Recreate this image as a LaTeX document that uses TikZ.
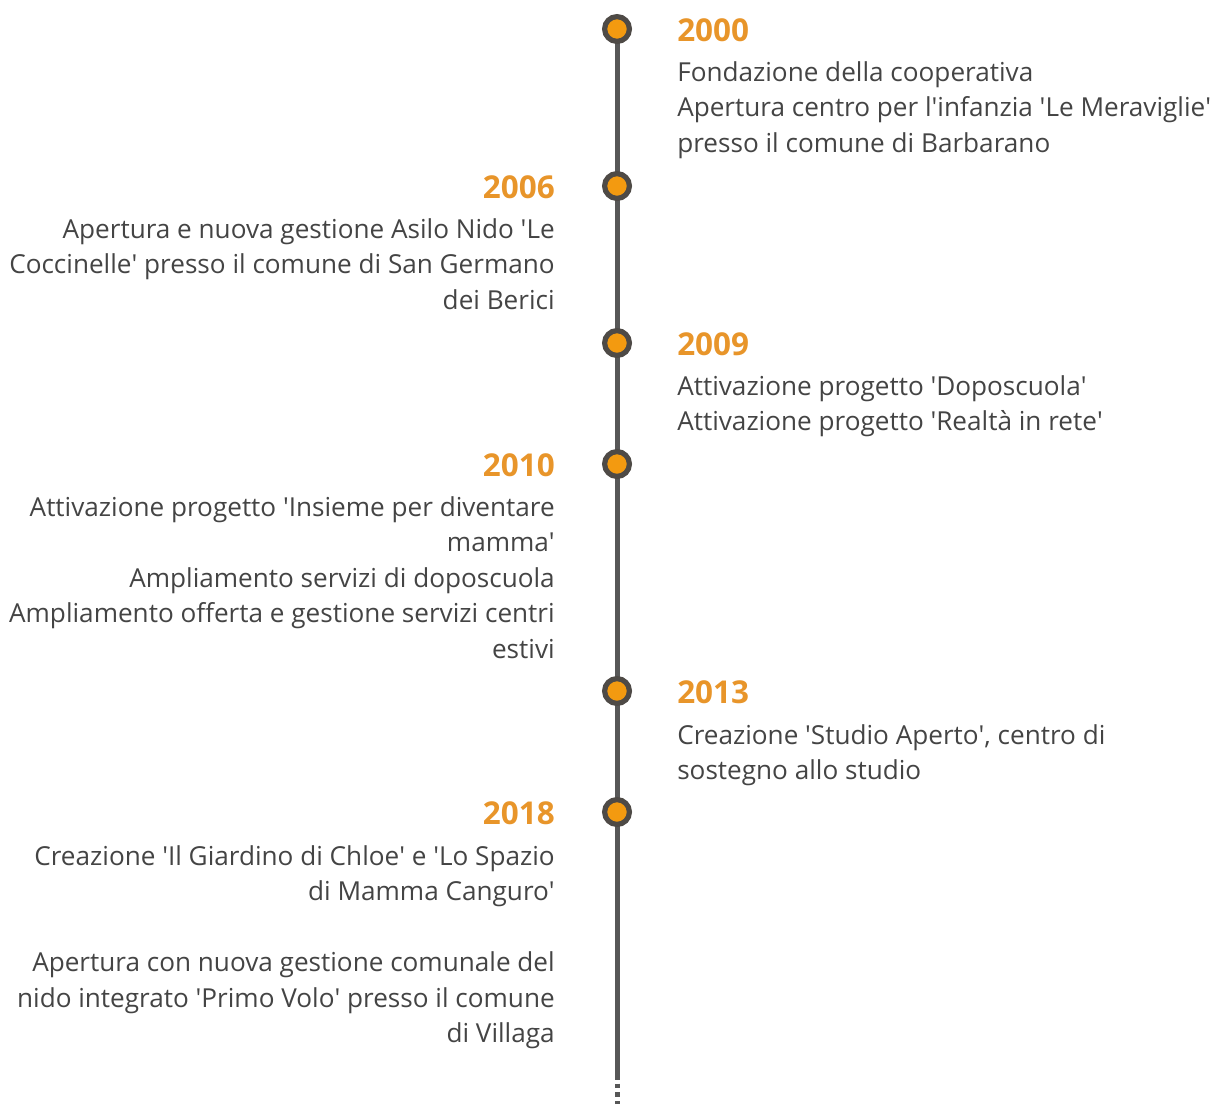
\documentclass[tikz,border=0pt]{standalone}
\usepackage{fontspec}
\setmainfont{Open Sans}
\definecolor{lineGray}{HTML}{575757}
\definecolor{ringGray}{HTML}{4E4A46}
\definecolor{dotOrange}{HTML}{F39A10}
\definecolor{yearOrange}{HTML}{E8952A}
\definecolor{textGray}{HTML}{444444}
\newcommand{\sq}{\textquotesingle}
\tikzset{
    axis/.style={draw=lineGray, line width=3.75pt},
    dot/.style={circle, draw=ringGray, fill=dotOrange, line width=3.9pt, minimum size=18.6pt, inner sep=0pt},
    year/.style={text=yearOrange, font=\fontsize{23.6}{26}\selectfont\bfseries, inner sep=0pt},
    entry/.style={text=textGray, font=\fontsize{19.6}{26.6}\selectfont, inner sep=0pt},
}
\begin{document}
\begin{tikzpicture}[x=0.75pt, y=-0.75pt]
    \useasboundingbox (0,0) rectangle (1213,1104);
    % the time axis
    \coordinate (top) at (617,29);
    \coordinate (tail) at (617,1075);
    \coordinate (end) at (617,1104);
    \draw[axis] (top) -- (tail);
    \draw[axis, dash pattern=on 3.5pt off 3pt] (tail) -- (end);
    \foreach \yr/\y in {2000/29, 2006/186, 2009/343, 2010/464, 2013/691, 2018/812}
        \node[dot] (d\yr) at (617,\y) {};
    % years on the right
    \node[year, anchor=base west] (y2000) at (677,41) {2000};
    \node[year, anchor=base west] (y2009) at (677,355) {2009};
    \node[year, anchor=base west] (y2013) at (677,703) {2013};
    % years on the left
    \node[year, anchor=base east] (y2006) at (555,198) {2006};
    \node[year, anchor=base east] (y2010) at (555,476) {2010};
    \node[year, anchor=base east] (y2018) at (555,824) {2018};
    % entries
    \node[entry, align=left, anchor=north west] (e2000) at (677,61)
        {Fondazione della cooperativa\\Apertura centro per l\sq infanzia \sq Le Meraviglie\sq\\presso il comune di Barbarano};
    \node[entry, align=right, anchor=north east] (e2006) at (555,218)
        {Apertura e nuova gestione Asilo Nido \sq Le\\Coccinelle\sq\ presso il comune di San Germano\\dei Berici};
    \node[entry, align=left, anchor=north west] (e2009) at (677,375)
        {Attivazione progetto \sq Doposcuola\sq\\Attivazione progetto \sq Realtà in rete\sq};
    \node[entry, align=right, anchor=north east] (e2010) at (555,496)
        {Attivazione progetto \sq Insieme per diventare\\mamma\sq\\Ampliamento servizi di doposcuola\\Ampliamento offerta e gestione servizi centri\\estivi};
    \node[entry, align=left, anchor=north west] (e2013) at (677,724)
        {Creazione \sq Studio Aperto\sq, centro di\\sostegno allo studio};
    \node[entry, align=right, anchor=north east] (e2018) at (555,845)
        {Creazione \sq Il Giardino di Chloe\sq\ e \sq Lo Spazio\\di Mamma Canguro\sq\\[26.6pt]Apertura con nuova gestione comunale del\\nido integrato \sq Primo Volo\sq\ presso il comune\\di Villaga};
\end{tikzpicture}
\end{document}
